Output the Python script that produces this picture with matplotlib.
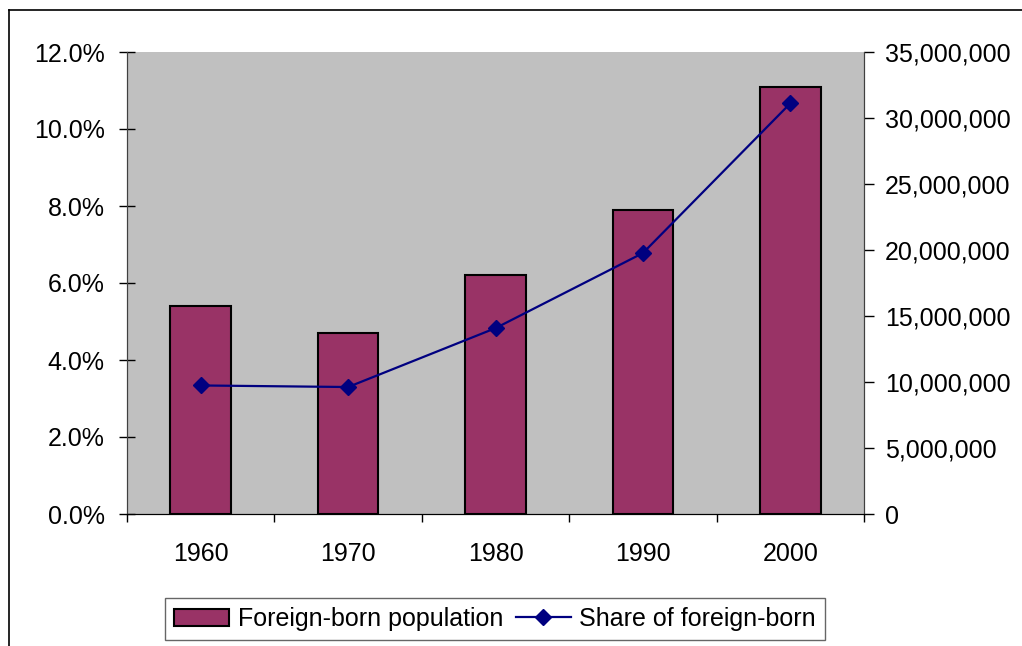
import matplotlib
matplotlib.use("Agg")
import matplotlib.pyplot as plt
from matplotlib.ticker import FuncFormatter, MultipleLocator
from matplotlib.lines import Line2D

years = ["1960", "1970", "1980", "1990", "2000"]
share_pct = [5.4, 4.7, 6.2, 7.9, 11.1]
population = [9738091, 9619302, 14079906, 19767316, 31107889]

plt.rcParams['font.family'] = ['Liberation Sans', 'DejaVu Sans']
fig = plt.figure(figsize=(10.22, 6.46), dpi=100)
W, H = 1022, 646
ax = fig.add_axes([127/W, 1-514/H, (864-127)/W, (514-52)/H])
ax.set_facecolor('#C0C0C0')

FS = 18
x = list(range(len(years)))
ax.bar(x, share_pct, width=0.41, color='#993366', edgecolor='black', linewidth=1.5, zorder=2)
ax.set_xlim(-0.5, 4.5)
ax.set_ylim(0, 12)
ax.yaxis.set_major_locator(MultipleLocator(2))
ax.yaxis.set_major_formatter(FuncFormatter(lambda v, p: f"{v:.1f}%"))
ax.set_xticks(x)
ax.set_xticklabels(years)
ax.set_xticks([i - 0.5 for i in range(6)], minor=True)
ax.tick_params(axis='x', which='major', length=0, pad=20, labelsize=FS)
ax.tick_params(axis='x', which='minor', length=6, width=1, direction='out')
ax.tick_params(axis='y', length=12, width=1, direction='inout', labelsize=FS, pad=10)

ax2 = ax.twinx()
ax2.plot(x, population, color='#000080', marker='D', markersize=8, linewidth=1.6, zorder=3)
ax2.set_ylim(0, 35000000)
ax2.yaxis.set_major_locator(MultipleLocator(5000000))
ax2.yaxis.set_major_formatter(FuncFormatter(lambda v, p: f"{int(v):,}"))
ax2.tick_params(axis='y', length=7, width=1, direction='out', labelsize=FS, pad=8)

for a in (ax, ax2):
    a.spines['top'].set_visible(False)
    a.spines['left'].set_color('#404040')
    a.spines['right'].set_color('#404040')
    a.spines['bottom'].set_color('black')

handles = [plt.Rectangle((0, 0), 1, 1, facecolor='#993366', edgecolor='black', linewidth=1.5),
           Line2D([], [], color='#000080', marker='D', markersize=8, linewidth=1.6)]
leg = fig.legend(handles, ['Foreign-born population', 'Share of foreign-born'],
                 loc='center', bbox_to_anchor=(495/W, 1-619/H), ncol=2, fontsize=FS,
                 frameon=True, fancybox=False, edgecolor='#404040', borderpad=0.35,
                 handlelength=2.2, handletextpad=0.35, columnspacing=0.5, borderaxespad=0)
leg.get_frame().set_linewidth(1)

# figure border (left and top)
fig.add_artist(Line2D([9/W, 9/W], [0, 1-10/H], color='black', linewidth=1.2, transform=fig.transFigure))
fig.add_artist(Line2D([9/W, 1], [1-10/H, 1-10/H], color='black', linewidth=1.2, transform=fig.transFigure))

fig.savefig('out.png', dpi=100)
